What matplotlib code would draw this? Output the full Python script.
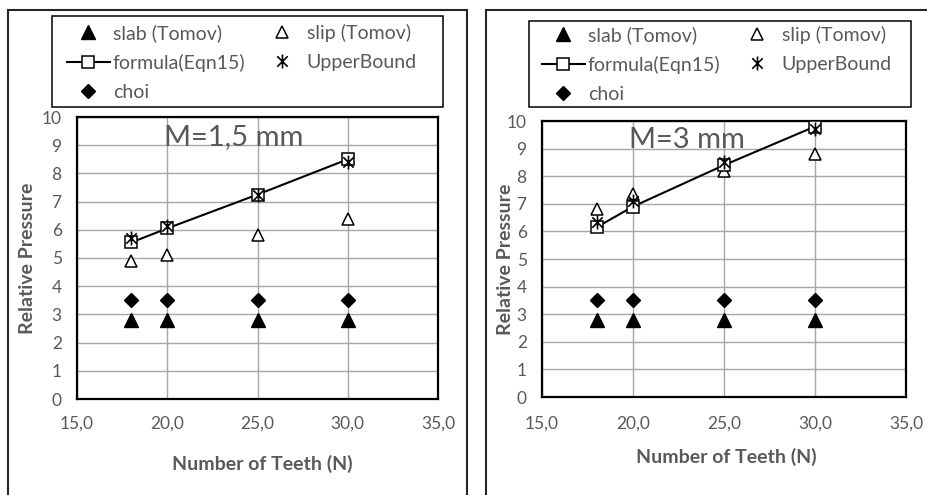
import numpy as np
import matplotlib.pyplot as plt
from matplotlib.patches import Rectangle
from matplotlib.path import Path

plt.rcParams['font.family'] = ['Lato', 'DejaVu Sans']

#=====================================================================================================
# data
teeth = [18, 20, 25, 30]

slab_15    = [2.8, 2.8, 2.8, 2.8]
slip_15    = [4.9, 5.1, 5.8, 6.4]
formula_15 = [5.55, 6.05, 7.25, 8.5]
upper_15   = [5.7, 6.15, 7.25, 8.4]
choi_15    = [3.5, 3.5, 3.5, 3.5]

slab_3    = [2.8, 2.8, 2.8, 2.8]
slip_3    = [6.8, 7.35, 8.2, 8.8]
formula_3 = [6.15, 6.9, 8.4, 9.8]
upper_3   = [6.35, 7.1, 8.5, 9.7]
choi_3    = [3.5, 3.5, 3.5, 3.5]

x_ticks = [15, 20, 25, 30, 35]
x_tick_labels = ['15,0', '20,0', '25,0', '30,0', '35,0']
y_ticks = [0, 1, 2, 3, 4, 5, 6, 7, 8, 9, 10]

GRAY_TXT = '#595959'
W, H = 927, 495

# Excel "star" marker: an X with a vertical bar through it
STAR = Path([(0, -1), (0, 1), (-0.75, -0.75), (0.75, 0.75), (-0.75, 0.75), (0.75, -0.75)],
            [Path.MOVETO, Path.LINETO, Path.MOVETO, Path.LINETO, Path.MOVETO, Path.LINETO])


def px_rect(x0, y0, x1, y1):
    '''pixel box (top-left origin) -> figure fraction [left, bottom, width, height]'''
    return [x0 / W, 1 - y1 / H, (x1 - x0) / W, (y1 - y0) / H]


#=====================================================================================================
def Plot_Panel(fig, box, slab, slip, formula, upper, choi, title, ylab_x, xlab_xy, xpad):

    ax = fig.add_axes(px_rect(*box))

    '''Series (same order as in Excel)'''
    ax.plot(teeth, slab, ls='none', marker='^', ms=9.5, color='black', label='slab (Tomov)', zorder=3)
    ax.plot(teeth, slip, ls='none', marker='^', ms=9, mfc='white', mec='black', mew=1.1,
            label='slip (Tomov)', zorder=3)
    ax.plot(teeth, formula, color='black', lw=1.5, marker='s', ms=9, mfc='white', mec='black',
            mew=1.1, label='formula(Eqn15)', zorder=4)
    ax.plot(teeth, upper, ls='none', marker=STAR, ms=10, color='black', mew=1.2,
            label='UpperBound', zorder=5)
    ax.plot(teeth, choi, ls='none', marker='D', ms=7, color='black', label='choi', zorder=3)

    '''Axes details'''
    ax.set_xlim(15, 35)
    ax.set_ylim(0, 10)
    ax.set_xticks(x_ticks)
    ax.set_xticklabels(x_tick_labels)
    ax.set_yticks(y_ticks)
    ax.grid(True, color='#A6A6A6', lw=1)
    ax.set_axisbelow(True)
    ax.tick_params(axis='both', length=0, labelsize=12.5, labelcolor=GRAY_TXT)
    ax.tick_params(axis='y', pad=11)
    ax.tick_params(axis='x', pad=xpad)
    for s in ax.spines.values():
        s.set_linewidth(1.6)
        s.set_color('black')

    ax.set_xlabel('Number of Teeth (N)', fontsize=14, fontweight='bold', color=GRAY_TXT)
    ax.set_ylabel('Relative Pressure', fontsize=14, fontweight='bold', color=GRAY_TXT)
    ax.xaxis.set_label_coords(*xlab_xy)
    ax.yaxis.set_label_coords(ylab_x, 0.5)

    ax.text(19.8, 9.3, title, fontsize=21, color=GRAY_TXT, va='center', ha='left')
    return ax


#=====================================================================================================
def Add_Legend(fig, ax, box, anchor):

    fig.patches.append(Rectangle((box[0] / W, 1 - box[3] / H), (box[2] - box[0]) / W,
                                 (box[3] - box[1]) / H, transform=fig.transFigure,
                                 fill=False, ec='black', lw=1.1))
    h, l = ax.get_legend_handles_labels()
    order = [0, 2, 4, 1, 3]   # column-first filling -> Excel row order
    fig.legend([h[i] for i in order], [l[i] for i in order], ncol=2, frameon=False,
               loc='upper left', bbox_to_anchor=(anchor[0] / W, 1 - anchor[1] / H),
               fontsize=14, labelcolor=GRAY_TXT, handlelength=2.2, handletextpad=0.15,
               columnspacing=0.8, labelspacing=0.62, borderpad=0, borderaxespad=0)


#=====================================================================================================
fig = plt.figure(figsize=(9.27, 4.95), dpi=100)

# outer chart borders (cut at the bottom / right like the screenshot)
fig.patches.append(Rectangle((8 / W, -0.2), (467 - 8) / W, 1.2 - 10 / H, transform=fig.transFigure,
                             fill=False, ec='#262626', lw=1.5))
fig.patches.append(Rectangle((486 / W, -0.2), 0.6, 1.2 - 10 / H, transform=fig.transFigure,
                             fill=False, ec='#262626', lw=1.5))

ax1 = Plot_Panel(fig, (77, 117, 438, 399), slab_15, slip_15, formula_15, upper_15, choi_15,
                 'M=1,5 mm', ylab_x=-0.114, xlab_xy=(0.514, -0.199), xpad=12)
ax2 = Plot_Panel(fig, (542, 121, 906, 397), slab_3, slip_3, formula_3, upper_3, choi_3,
                 'M=3 mm', ylab_x=-0.077, xlab_xy=(0.505, -0.185), xpad=13.5)

Add_Legend(fig, ax1, (52, 16, 443, 107), (67, 24))
Add_Legend(fig, ax2, (529, 21, 911, 107), (542, 26))

fig.savefig('out.png', dpi=100)
